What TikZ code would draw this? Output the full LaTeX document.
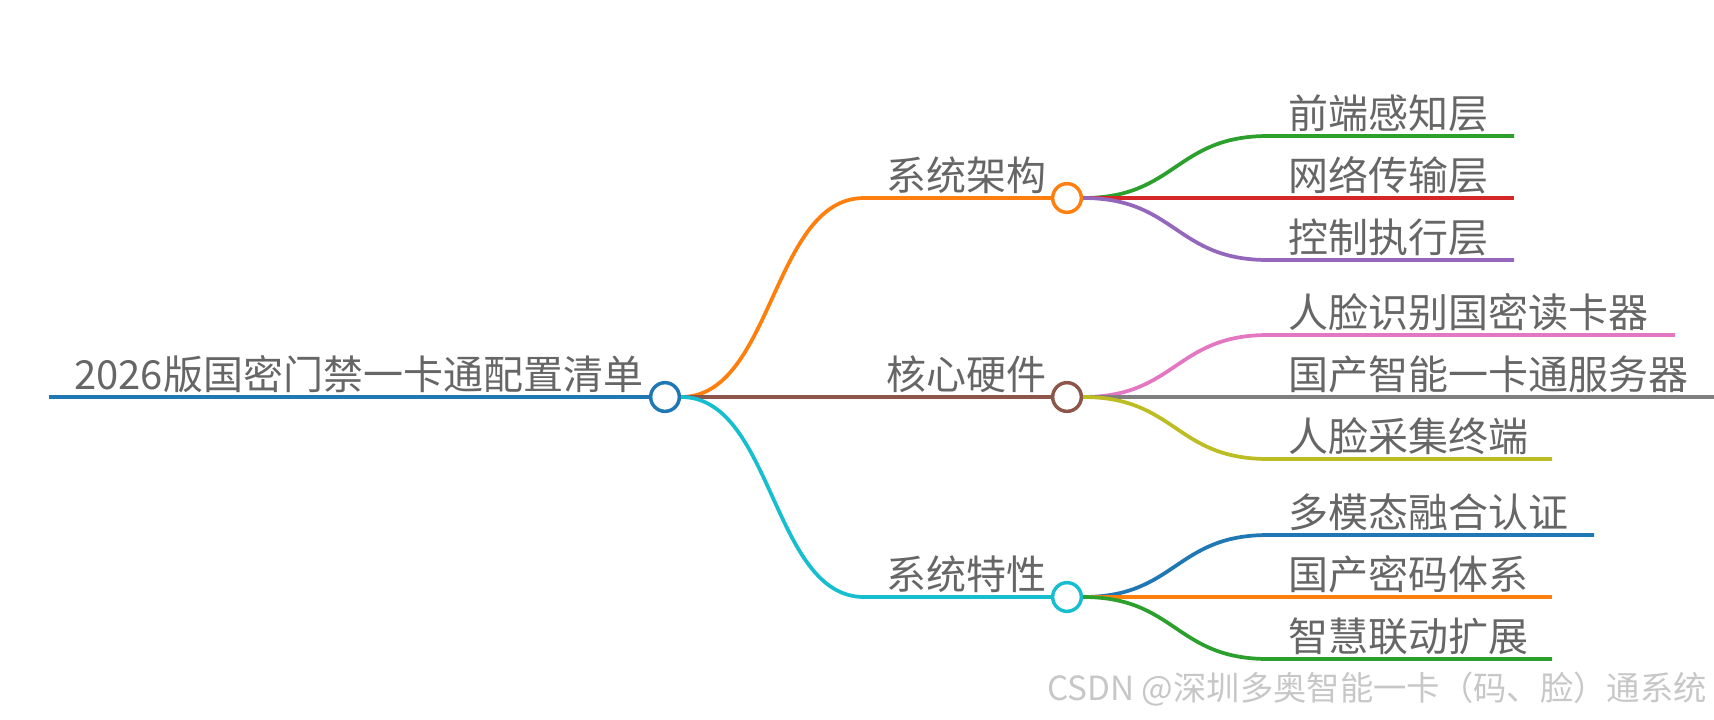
\documentclass[tikz,border=0pt]{standalone}
\usepackage{fontspec}
\setmainfont{Noto Sans CJK SC}
\usepackage{xcolor}
\usepackage{tikz}
\usetikzlibrary{positioning}
\definecolor{mapBlue}{HTML}{1F77B4}
\definecolor{mapOrange}{HTML}{FF7F0E}
\definecolor{mapGreen}{HTML}{2CA02C}
\definecolor{mapRed}{HTML}{D62728}
\definecolor{mapPurple}{HTML}{9467BD}
\definecolor{mapBrown}{HTML}{8C564B}
\definecolor{mapPink}{HTML}{E377C2}
\definecolor{mapGray}{HTML}{7F7F7F}
\definecolor{mapOlive}{HTML}{BCBD22}
\definecolor{mapCyan}{HTML}{17BECF}
\definecolor{mapText}{HTML}{666666}
\tikzset{
  branch/.style={line width=2.8pt, draw=#1},
  root branch/.style={line width=3.2pt, draw=mapBlue},
  hub/.style={circle, draw=#1, line width=2.6pt, fill=white,
    minimum size=21.5pt, inner sep=0pt},
  topic/.style={font=\fontsize{30}{32}\selectfont, text=mapText,
    inner sep=0pt, anchor=base west},
  mark text/.style={font=\fontsize{25}{27}\selectfont, text=black!22,
    inner sep=0pt, anchor=base east}
}

\begin{document}
\begin{tikzpicture}[x=0.75pt, y=-0.75pt]
  \useasboundingbox (0,0) rectangle (1714,719);
  % hubs
  \node[hub=mapBlue] (root) at (665,397) {};
  \node[hub=mapOrange] (arch) at (1067,198) {};
  \node[hub=mapBrown] (hw) at (1067,397) {};
  \node[hub=mapCyan] (feat) at (1067,597) {};
  % knees and line ends
  \coordinate (start) at (49,397);
  \coordinate (arch-k) at (864,198);
  \coordinate (hw-k) at (864,397);
  \coordinate (feat-k) at (864,597);
  \coordinate (a1-k) at (1268,136); \coordinate (a1-e) at (1514,136);
  \coordinate (a2-k) at (1268,198); \coordinate (a2-e) at (1514,198);
  \coordinate (a3-k) at (1268,260); \coordinate (a3-e) at (1514,260);
  \coordinate (h1-k) at (1268,335); \coordinate (h1-e) at (1675,335);
  \coordinate (h2-k) at (1268,397); \coordinate (h2-e) at (1714,397);
  \coordinate (h3-k) at (1268,459); \coordinate (h3-e) at (1552,459);
  \coordinate (f1-k) at (1268,535); \coordinate (f1-e) at (1594,535);
  \coordinate (f2-k) at (1268,597); \coordinate (f2-e) at (1552,597);
  \coordinate (f3-k) at (1268,659); \coordinate (f3-e) at (1552,659);
  % root and main branches
  \draw[root branch] (start) -- (root.west);
  \draw[branch=mapOrange] (root.east) .. controls +(92,0) and +(-92,0) .. (arch-k) -- (arch.west);
  \draw[branch=mapBrown] (root.east) -- (hw-k) -- (hw.west);
  \draw[branch=mapCyan] (root.east) .. controls +(92,0) and +(-92,0) .. (feat-k) -- (feat.west);
  % leaves
  \draw[branch=mapGreen] (arch.east) .. controls +(93,0) and +(-93,0) .. (a1-k) -- (a1-e);
  \draw[branch=mapRed] (arch.east) -- (a2-k) -- (a2-e);
  \draw[branch=mapPurple] (arch.east) .. controls +(93,0) and +(-93,0) .. (a3-k) -- (a3-e);
  \draw[branch=mapPink] (hw.east) .. controls +(93,0) and +(-93,0) .. (h1-k) -- (h1-e);
  \draw[branch=mapGray] (hw.east) -- (h2-k) -- (h2-e);
  \draw[branch=mapOlive] (hw.east) .. controls +(93,0) and +(-93,0) .. (h3-k) -- (h3-e);
  \draw[branch=mapBlue] (feat.east) .. controls +(93,0) and +(-93,0) .. (f1-k) -- (f1-e);
  \draw[branch=mapOrange] (feat.east) -- (f2-k) -- (f2-e);
  \draw[branch=mapGreen] (feat.east) .. controls +(93,0) and +(-93,0) .. (f3-k) -- (f3-e);
  % labels
  \node[topic] (root-text) at (74,389) {2026版国密门禁一卡通配置清单};
  \node[topic] (arch-text) at (886,190) {系统架构};
  \node[topic] (hw-text) at (886,389) {核心硬件};
  \node[topic] (feat-text) at (886,589) {系统特性};
  \node[topic] (a1) at (1288,128) {前端感知层};
  \node[topic] (a2) at (1288,190) {网络传输层};
  \node[topic] (a3) at (1288,252) {控制执行层};
  \node[topic] (h1) at (1288,327) {人脸识别国密读卡器};
  \node[topic] (h2) at (1288,389) {国产智能一卡通服务器};
  \node[topic] (h3) at (1288,451) {人脸采集终端};
  \node[topic] (f1) at (1288,527) {多模态融合认证};
  \node[topic] (f2) at (1288,589) {国产密码体系};
  \node[topic] (f3) at (1288,651) {智慧联动扩展};
  \node[mark text] (mark) at (1707,700) {CSDN @深圳多奥智能一卡（码、脸）通系统};
\end{tikzpicture}
\end{document}
